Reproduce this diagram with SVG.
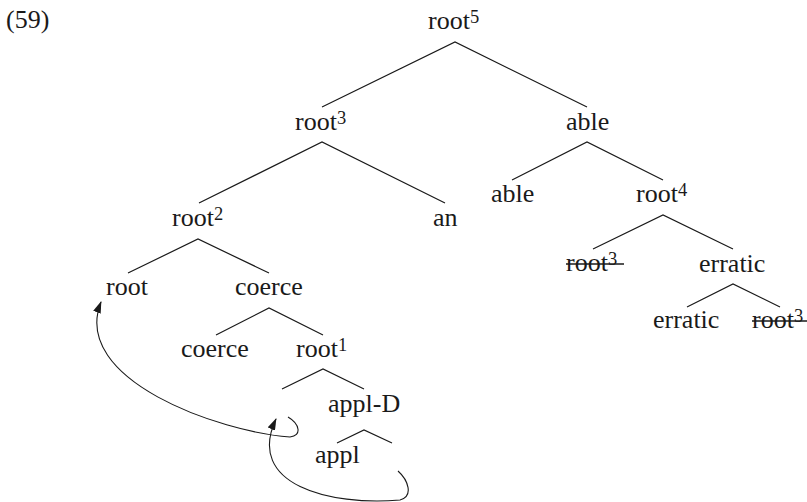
<svg xmlns="http://www.w3.org/2000/svg" width="807" height="502" viewBox="0 0 807 502">
<defs>
<style>
.t{font-family:"Liberation Serif","Times New Roman",serif;font-size:26px;fill:#1a1a1a}
.sup{font-size:18.5px}
.e{stroke:#1a1a1a;stroke-width:1.2;fill:none}
.s{stroke:#1a1a1a;stroke-width:1.6}
.mv{stroke:#1a1a1a;stroke-width:1.1;fill:none;marker-end:url(#ah)}
</style>
<marker id="ah" viewBox="0 0 12 8" refX="11" refY="4" markerWidth="12" markerHeight="8" markerUnits="userSpaceOnUse" orient="auto">
<path d="M0,0 L12,4 L0,8 Z" fill="#1a1a1a"/>
</marker>
</defs>
<rect width="807" height="502" fill="#fff"/>
<text class="t" x="6" y="28">(59)</text>
<g id="n-root5"><text class="t" x="428" y="29">root<tspan class="sup" dy="-6">5</tspan></text></g>
<g id="n-root3"><text class="t" x="295" y="130">root<tspan class="sup" dy="-6">3</tspan></text></g>
<g id="n-able-top"><text class="t" x="566" y="130">able</text></g>
<g id="n-root2"><text class="t" x="172" y="226">root<tspan class="sup" dy="-6">2</tspan></text></g>
<g id="n-an"><text class="t" x="433" y="226">an</text></g>
<g id="n-able"><text class="t" x="491" y="202">able</text></g>
<g id="n-root4"><text class="t" x="636" y="202">root<tspan class="sup" dy="-6">4</tspan></text></g>
<g id="n-root3-del1"><text class="t" x="566" y="271">root<tspan class="sup" dy="-6">3</tspan></text><line class="s" x1="566" y1="264" x2="624" y2="264"/></g>
<g id="n-erratic-top"><text class="t" x="699" y="272">erratic</text></g>
<g id="n-erratic"><text class="t" x="653" y="328">erratic</text></g>
<g id="n-root3-del2"><text class="t" x="752" y="328">root<tspan class="sup" dy="-6">3</tspan></text><line class="s" x1="752" y1="321" x2="807" y2="321"/></g>
<g id="n-root"><text class="t" x="106" y="295">root</text></g>
<g id="n-coerce-top"><text class="t" x="235" y="295">coerce</text></g>
<g id="n-coerce"><text class="t" x="181" y="357">coerce</text></g>
<g id="n-root1"><text class="t" x="296" y="357">root<tspan class="sup" dy="-6">1</tspan></text></g>
<g id="n-applD"><text class="t" x="328" y="412">appl-D</text></g>
<g id="n-appl"><text class="t" x="315" y="463">appl</text></g>
<g id="connectors">
<path class="e" d="M322,107 L455,42 L587,107"/>
<path class="e" d="M199,203 L322,142 L445,203"/>
<path class="e" d="M512,180 L587,142 L663,180"/>
<path class="e" d="M593,249 L663,215 L733,249"/>
<path class="e" d="M687,307 L733,284 L780,307"/>
<path class="e" d="M128,273 L198,239 L269,273"/>
<path class="e" d="M216,335 L269,308 L323,335"/>
<path class="e" d="M282,389 L323,369 L364,389"/>
<path class="e" d="M337,443 L364,430 L392,443"/>
<path class="mv" d="M288,417 C300,424 302,436 290,437 C220,432 70,380 101,302"/>
<path class="mv" d="M398,471 C408,480 414,496 400,500 C330,506 245,485 276,419"/>
</g>
</svg>
